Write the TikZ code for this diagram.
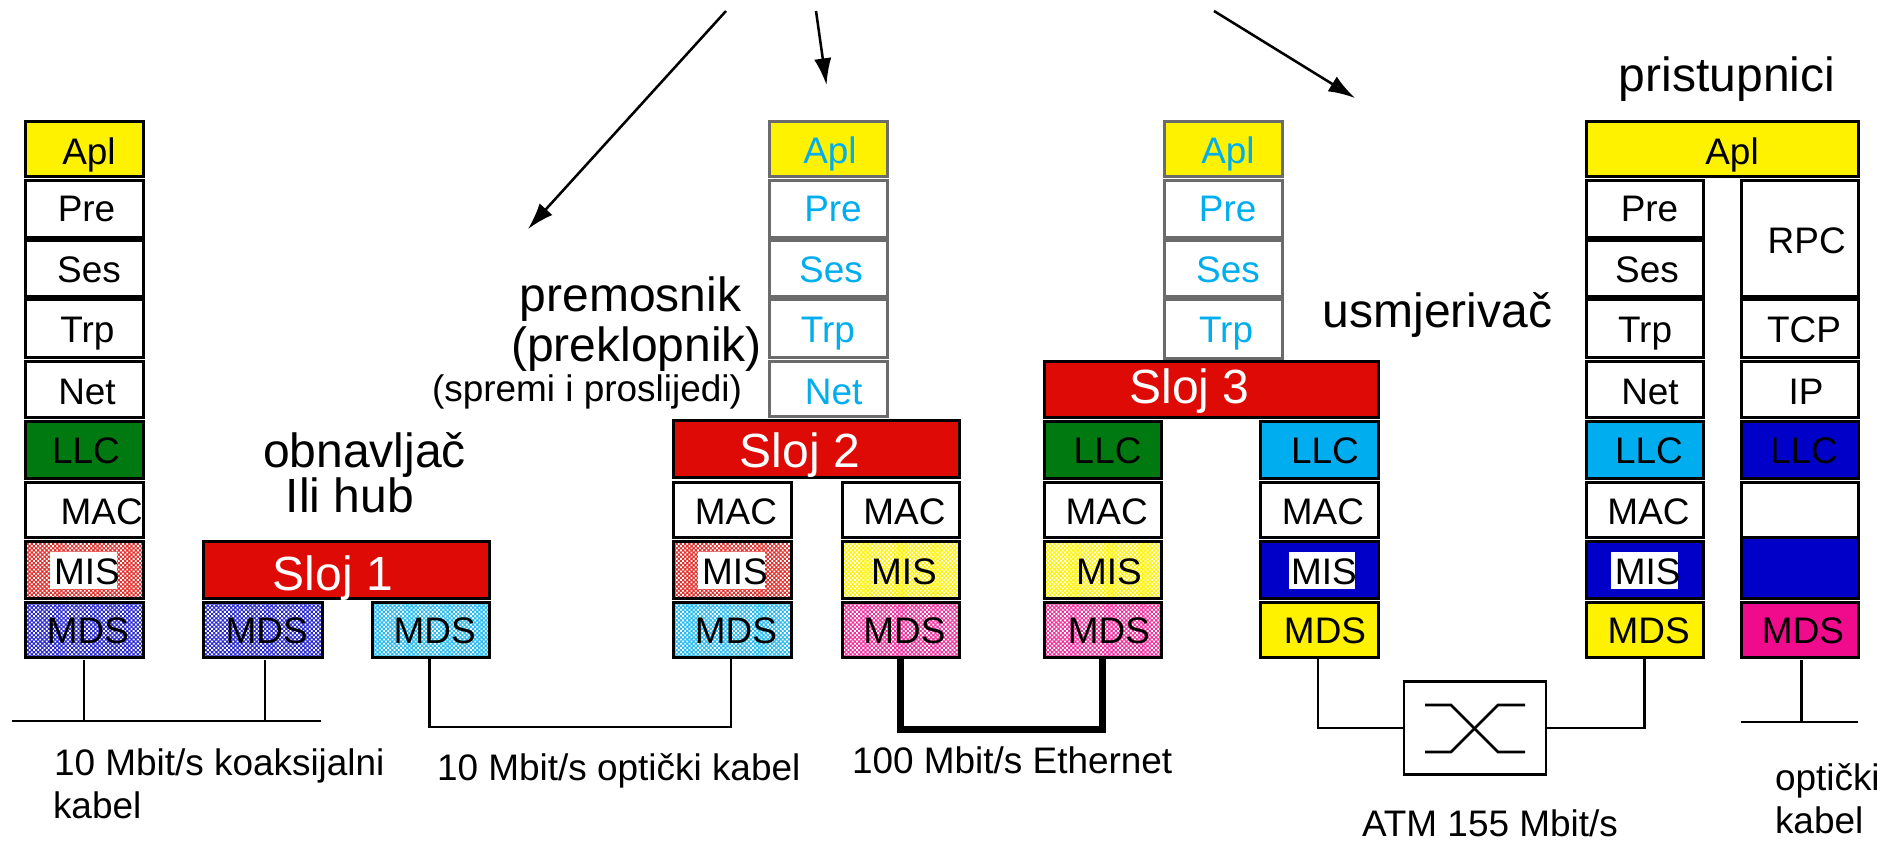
\documentclass[tikz,border=0pt]{standalone}
\usepackage{fontspec}
\setmainfont{Liberation Sans}
\usetikzlibrary{patterns.meta,arrows.meta}
\definecolor{cYel}{HTML}{FFF200}
\definecolor{cGrn}{HTML}{007A10}
\definecolor{cRed}{HTML}{DD0A05}
\definecolor{cCya}{HTML}{00AEEF}
\definecolor{cBlu}{HTML}{0000C8}
\definecolor{cMag}{HTML}{F00A8C}
\definecolor{cBlue}{HTML}{00AEEF}
\tikzset{
  cellbox/.style={draw=black,line width=2.25pt,inner sep=0pt,outer sep=0pt,rectangle},
  ghost/.style={draw=black!58,line width=2.25pt,inner sep=0pt,outer sep=0pt,rectangle},
  dith/.style={cellbox,preaction={fill=#1},pattern={Dots[radius=.95pt,distance=2.25pt,angle=45]},pattern color=white},
  tx/.style={inner sep=0pt,outer sep=0pt,anchor=base,font=\fontsize{27.7}{28}\selectfont,text=black},
  txb/.style={tx,text=cBlue},
  big/.style={tx,font=\fontsize{36}{36}\selectfont},
  slj/.style={big,text=white},
  txl/.style={tx,anchor=base west},
  whitebk/.style={fill=white,inner sep=0pt,outer sep=0pt,rectangle},
  conn/.style={line width=2pt,line join=miter},
  heavy/.style={line width=5.25pt,line join=miter},
  harrow/.style={line width=1.9pt,-{Latex[length=20pt,width=13pt]}},
}
\newcommand{\cell}[6]{\node[#6,minimum width={(#4-#2)*0.75pt},minimum height={(#5-#3)*0.75pt}] (#1) at ({(#2+#4)/2},{(#3+#5)/2-1}) {};}
\newcommand{\wbk}[5]{\node[whitebk,minimum width={(#4-#2)*0.75pt},minimum height={(#5-#3)*0.75pt}] (#1) at ({(#2+#4)/2},{(#3+#5)/2}) {};}
\newcommand{\lab}[5]{\node[#1] (#2) at (#3,#4) {#5};}
\begin{document}
\begin{tikzpicture}[x=0.75pt,y=-0.75pt]
\useasboundingbox (0,0) rectangle (1897,841);
\fill[white] (0,0) rectangle (1897,841);
% arrows
\coordinate (a1s) at (726,11); \coordinate (a1e) at (528,229);
\coordinate (a2s) at (816,11); \coordinate (a2e) at (826.5,85);
\coordinate (a3s) at (1214,11); \coordinate (a3e) at (1355,98);
\draw[harrow] (a1s) -- (a1e);
\draw[harrow] (a2s) -- (a2e);
\draw[harrow] (a3s) -- (a3e);
% left stack
\cell{lA}{25}{122.5}{143}{177.5}{cellbox,fill=cYel}
\cell{lP}{25}{181.5}{143}{238.5}{cellbox,fill=white}
\cell{lS}{25}{242}{143}{297.5}{cellbox,fill=white}
\cell{lT}{25}{301}{143}{358.5}{cellbox,fill=white}
\cell{lN}{25}{362}{143}{418.5}{cellbox,fill=white}
\cell{lL}{25}{422}{143}{479.5}{cellbox,fill=cGrn}
\cell{lM}{25}{483}{143}{538.5}{cellbox,fill=white}
\cell{lI}{25}{542}{143}{599.5}{dith=cRed!85!white}
\cell{lD}{25}{603}{143}{658.5}{dith=cBlu!85!white}
\wbk{lIw}{50}{552}{117}{589}
\lab{tx}{tlA}{89}{165}{Apl}
\lab{tx}{tlP}{86.5}{222}{Pre}
\lab{tx}{tlS}{89}{283}{Ses}
\lab{tx}{tlT}{87.5}{342}{Trp}
\lab{tx}{tlN}{87}{404}{Net}
\lab{tx}{tlL}{86}{463}{LLC}
\lab{tx}{tlM}{101.7}{524}{MAC}
\lab{tx}{tlI}{87}{584}{MIS}
\lab{tx}{tlD}{88}{643}{MDS}
% hub
\cell{hS}{203}{542.5}{489}{599.5}{cellbox,fill=cRed}
\cell{hL}{203}{603}{322}{658.5}{dith=cBlu!85!white}
\cell{hR}{372}{603}{489}{658.5}{dith=cCya!85!white}
\lab{slj}{thS}{333}{590}{Sloj 1}
\lab{tx}{thL}{266.7}{643}{MDS}
\lab{tx}{thR}{434.7}{643}{MDS}
\lab{big}{tob}{364.5}{467}{obnavljač}
\lab{big}{tili}{350}{512}{Ili hub}
% bridge upper
\cell{bA}{769.5}{122.5}{887}{177.5}{ghost,fill=cYel}
\cell{bP}{769.5}{181.5}{887}{238.5}{ghost,fill=white}
\cell{bS}{769.5}{242}{887}{297.5}{ghost,fill=white}
\cell{bT}{769.5}{301}{887}{358.5}{ghost,fill=white}
\cell{bN}{769.5}{362}{887}{417}{ghost,fill=white}
\lab{txb}{tbA}{830}{164}{Apl}
\lab{txb}{tbP}{833}{222}{Pre}
\lab{txb}{tbS}{831}{283}{Ses}
\lab{txb}{tbT}{828}{342}{Trp}
\lab{txb}{tbN}{833.7}{404}{Net}
% bridge lower
\cell{bS2}{673}{421.5}{959}{478.5}{cellbox,fill=cRed}
\cell{bM1}{673}{483}{791}{538.5}{cellbox,fill=white}
\cell{bI1}{673}{542}{791}{599.5}{dith=cRed!85!white}
\cell{bD1}{673}{603}{791}{658.5}{dith=cCya!85!white}
\cell{bM2}{842}{483}{959}{538.5}{cellbox,fill=white}
\cell{bI2}{842}{542}{959}{599.5}{dith=cYel}
\cell{bD2}{842}{603}{959}{658.5}{dith=cMag!85!white}
\wbk{bIw}{698}{552}{765}{589}
\lab{slj}{tbS2}{800}{467}{Sloj 2}
\lab{tx}{tbM1}{736}{524}{MAC}
\lab{tx}{tbI1}{735}{584}{MIS}
\lab{tx}{tbD1}{736}{643}{MDS}
\lab{tx}{tbM2}{904.5}{524}{MAC}
\lab{tx}{tbI2}{904}{584}{MIS}
\lab{tx}{tbD2}{904.5}{643}{MDS}
\lab{big}{tpr}{630.6}{312}{premosnik}
\lab{big}{tpk}{636.5}{361.5}{(preklopnik)}
\lab{tx}{tsp}{587}{401}{(spremi i proslijedi)}
% router upper
\cell{rA}{1164.5}{122.5}{1282}{177.5}{ghost,fill=cYel}
\cell{rP}{1164.5}{181.5}{1282}{238.5}{ghost,fill=white}
\cell{rS}{1164.5}{242}{1282}{297.5}{ghost,fill=white}
\cell{rT}{1164.5}{301}{1282}{359}{ghost,fill=white}
\lab{txb}{trA}{1228}{164}{Apl}
\lab{txb}{trP}{1227.6}{222}{Pre}
\lab{txb}{trS}{1228}{283}{Ses}
\lab{txb}{trT}{1226}{342}{Trp}
% router lower
\cell{rS3}{1044}{362}{1378}{418.5}{cellbox,fill=cRed}
\cell{rL1}{1044}{422}{1161}{479.5}{cellbox,fill=cGrn}
\cell{rM1}{1044}{483}{1161}{538.5}{cellbox,fill=white}
\cell{rI1}{1044}{542}{1161}{599.5}{dith=cYel}
\cell{rD1}{1044}{603}{1161}{658.5}{dith=cMag!85!white}
\cell{rL2}{1260}{422}{1378}{479.5}{cellbox,fill=cCya}
\cell{rM2}{1260}{483}{1378}{538.5}{cellbox,fill=white}
\cell{rI2}{1260}{542}{1378}{599.5}{cellbox,fill=cBlu}
\cell{rD2}{1260}{603}{1378}{658.5}{cellbox,fill=cYel}
\wbk{rIw}{1288.5}{552}{1355}{589}
\lab{slj}{trS3}{1189.5}{403}{Sloj 3}
\lab{tx}{trL1}{1107.6}{463}{LLC}
\lab{tx}{trM1}{1106.7}{524}{MAC}
\lab{tx}{trI1}{1109}{584}{MIS}
\lab{tx}{trD1}{1109}{643}{MDS}
\lab{tx}{trL2}{1325}{463}{LLC}
\lab{tx}{trM2}{1323}{524}{MAC}
\lab{tx}{trI2}{1324}{584}{MIS}
\lab{tx}{trD2}{1325}{643}{MDS}
\lab{big}{tus}{1437.5}{328}{usmjerivač}
% gateway
\cell{gA}{1586}{122.5}{1858}{177.5}{cellbox,fill=cYel}
\cell{gP}{1586}{181.5}{1703}{238.5}{cellbox,fill=white}
\cell{gS}{1586}{242}{1703}{297.5}{cellbox,fill=white}
\cell{gT}{1586}{301}{1703}{358.5}{cellbox,fill=white}
\cell{gN}{1586}{362}{1703}{418.5}{cellbox,fill=white}
\cell{gL}{1586}{422}{1703}{479.5}{cellbox,fill=cCya}
\cell{gM}{1586}{483}{1703}{538.5}{cellbox,fill=white}
\cell{gI}{1586}{542}{1703}{599.5}{cellbox,fill=cBlu}
\cell{gD}{1586}{603}{1703}{658.5}{cellbox,fill=cYel}
\cell{gR}{1741}{181.5}{1858}{297.5}{cellbox,fill=white}
\cell{gC}{1741}{301}{1858}{358.5}{cellbox,fill=white}
\cell{gIP}{1741}{362}{1858}{418.5}{cellbox,fill=white}
\cell{gL2}{1741}{422}{1858}{479.5}{cellbox,fill=cBlu}
\cell{gM2}{1741}{483}{1858}{538.5}{cellbox,fill=white}
\cell{gI2}{1741}{538.5}{1858}{599.5}{cellbox,fill=cBlu}
\cell{gD2}{1741}{603}{1858}{658.5}{cellbox,fill=cMag}
\wbk{gIw}{1611}{552}{1678}{589}
\lab{tx}{tgA}{1732}{165}{Apl}
\lab{tx}{tgP}{1649.5}{222}{Pre}
\lab{tx}{tgS}{1647}{283}{Ses}
\lab{tx}{tgT}{1645}{342}{Trp}
\lab{tx}{tgN}{1650}{404}{Net}
\lab{tx}{tgL}{1649}{463}{LLC}
\lab{tx}{tgM}{1648.5}{524}{MAC}
\lab{tx}{tgI}{1647.6}{584}{MIS}
\lab{tx}{tgD}{1648.6}{643}{MDS}
\lab{tx}{tgR}{1806.7}{254}{RPC}
\lab{tx}{tgC}{1804}{342}{TCP}
\lab{tx}{tgIP}{1806}{404}{IP}
\lab{tx}{tgL2}{1804}{463}{LLC}
\lab{tx}{tgD2}{1803}{643}{MDS}
\lab{big}{tpri}{1727}{92}{pristupnici}
% coax
\coordinate (cxL) at (12,721); \coordinate (cxR) at (321,721);
\coordinate (cx1) at (84,721); \coordinate (cx2) at (265,721);
\draw[conn] (cxL) -- (cxR);
\draw[conn,shorten <=2pt] (cx1 |- lD.south) -- (cx1);
\draw[conn,shorten <=2pt] (cx2 |- hL.south) -- (cx2);
% fibre
\coordinate (fb) at (580,727);
\draw[conn] ([xshift=-.75pt]hR.south) |- (fb) -| ([xshift=-.75pt]bD1.south);
% ethernet
\coordinate (et) at (1000,729);
\draw[heavy] (bD2.south) |- (et) -| (rD1.south);
% ATM
\cell{sw}{1404}{682.5}{1546}{775.5}{conn,draw=black,rectangle,inner sep=0pt,outer sep=0pt}
\draw[conn] ([xshift=-.75pt]rD2.south) |- (sw.west);
\draw[conn] (sw.east) -| (gD.south);
\coordinate (x1) at (1425,705); \coordinate (x2) at (1451,705); \coordinate (x3) at (1498,752); \coordinate (x4) at (1525,752);
\coordinate (y1) at (1425,752); \coordinate (y2) at (1451,752); \coordinate (y3) at (1498,705); \coordinate (y4) at (1525,705);
\draw[conn] (x1) -- (x2) -- (x3) -- (x4);
\draw[conn] (y1) -- (y2) -- (y3) -- (y4);
% optical right
\coordinate (oL) at (1741,722); \coordinate (oR) at (1858,722); \coordinate (oM) at (1801.5,722);
\draw[conn] (oL) -- (oR);
\draw[conn,shorten <=2pt] (oM |- gD2.south) -- (oM);
% captions
\lab{txl}{c1}{54}{775}{10 Mbit/s koaksijalni}
\lab{txl}{c2}{53}{818}{kabel}
\lab{txl}{c3}{437}{780}{10 Mbit/s optički kabel}
\lab{txl}{c4}{852}{773}{100 Mbit/s Ethernet}
\lab{txl}{c5}{1362}{836}{ATM 155 Mbit/s}
\lab{txl}{c6}{1775}{790}{optički}
\lab{txl}{c7}{1775}{833}{kabel}
\end{tikzpicture}
\end{document}
